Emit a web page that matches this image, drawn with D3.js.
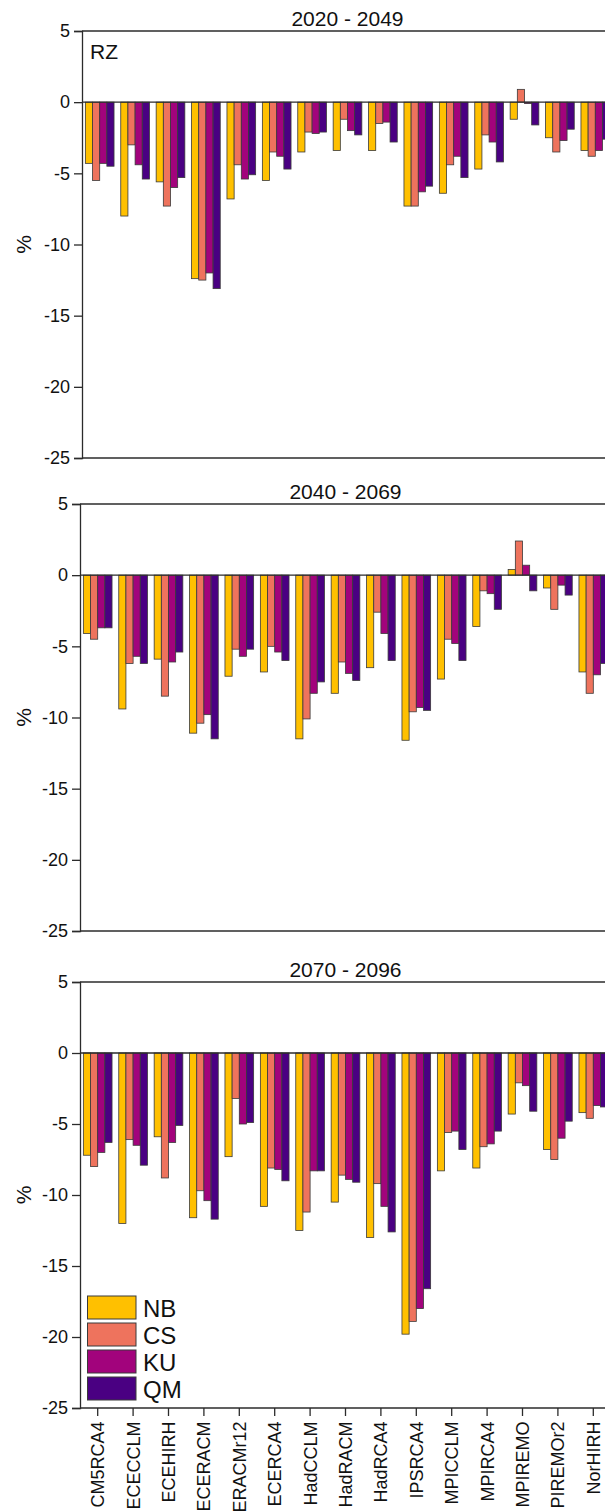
<!DOCTYPE html>
<html>
<head>
<meta charset="utf-8">
<script src="https://cdn.jsdelivr.net/npm/d3@7"></script>
<style>
  html, body { margin: 0; padding: 0; background: #fff; overflow: hidden; }
  svg { display: block; font-family: "Liberation Sans", Arial, sans-serif; }
</style>
</head>
<body>
<svg id="chart" width="605" height="1511"></svg>
<script>
// Model chains (x axis)
const models = ["CM5RCA4", "ECECCLM", "ECEHIRH", "ECERACM", "ERACMr12", "ECERCA4",
  "HadCCLM", "HadRACM", "HadRCA4", "IPSRCA4", "MPICCLM", "MPIRCA4", "MPIREMO",
  "PIREMOr2", "NorHIRH"];

// Bias-correction methods (legend)
const methods = ["NB", "CS", "KU", "QM"];
const methodColors = ["#FFC000", "#EE735D", "#A2037C", "#4A0082"];

// Periods (panel titles)
const periods = ["2020 - 2049", "2040 - 2069", "2070 - 2096"];

// Y axis ticks (%)
const yTicks = [5, 0, -5, -10, -15, -20, -25];

// Relative change (%), 2020 - 2049
const nb2020 = [-4.3, -8.0, -5.6, -12.4, -6.8, -5.5, -3.5, -3.4, -3.4, -7.3, -6.4, -4.7, -1.2, -2.5, -3.4];
const cs2020 = [-5.5, -3.0, -7.3, -12.5, -4.4, -3.5, -2.1, -1.2, -1.5, -7.3, -4.4, -2.3, 0.9, -3.5, -3.8];
const ku2020 = [-4.3, -4.4, -6.0, -12.0, -5.4, -3.8, -2.2, -2.0, -1.4, -6.3, -3.8, -2.8, -0.1, -2.7, -3.4];
const qm2020 = [-4.5, -5.4, -5.3, -13.1, -5.1, -4.7, -2.1, -2.3, -2.8, -5.9, -5.3, -4.2, -1.6, -1.9, -2.6];

// Relative change (%), 2040 - 2069
const nb2040 = [-4.1, -9.4, -5.9, -11.1, -7.1, -6.8, -11.5, -8.3, -6.5, -11.6, -7.3, -3.6, 0.4, -0.9, -6.8];
const cs2040 = [-4.5, -6.2, -8.5, -10.4, -5.2, -5.0, -10.1, -6.1, -2.6, -9.6, -4.5, -1.1, 2.4, -2.4, -8.3];
const ku2040 = [-3.7, -5.7, -6.1, -9.8, -5.7, -5.4, -8.3, -6.9, -4.1, -9.3, -4.8, -1.3, 0.7, -0.7, -7.0];
const qm2040 = [-3.7, -6.2, -5.4, -11.5, -5.2, -6.0, -7.5, -7.4, -6.0, -9.5, -6.0, -2.4, -1.1, -1.4, -6.2];

// Relative change (%), 2070 - 2096
const nb2070 = [-7.2, -12.0, -5.9, -11.6, -7.3, -10.8, -12.5, -10.5, -13.0, -19.8, -8.3, -8.1, -4.3, -6.8, -4.2];
const cs2070 = [-8.0, -6.1, -8.8, -9.7, -3.2, -8.1, -11.2, -8.6, -9.2, -18.9, -5.6, -6.6, -2.1, -7.5, -4.6];
const ku2070 = [-7.0, -6.5, -6.3, -10.4, -5.0, -8.2, -8.3, -8.9, -10.8, -18.0, -5.5, -6.4, -2.3, -6.0, -3.7];
const qm2070 = [-6.3, -7.9, -5.1, -11.7, -4.9, -9.0, -8.3, -9.1, -12.6, -16.6, -6.8, -5.5, -4.1, -4.8, -3.8];

const seriesByPeriod = [
  [nb2020, cs2020, ku2020, qm2020],
  [nb2040, cs2040, ku2040, qm2040],
  [nb2070, cs2070, ku2070, qm2070]
];

// Panel placement
const panelTop = [31, 504, 982];
const panelBottom = [458, 931, 1408];
const panelLeft = [82, 80, 80];
const plotWidth = 531;

const svg = d3.select("#chart");
const lineColor = "#2b2b2b";

periods.forEach((period, p) => {
  const top = panelTop[p], bottom = panelBottom[p], left = panelLeft[p];
  const right = left + plotWidth;
  const g = svg.append("g");

  const y = d3.scaleLinear().domain([-25, 5]).range([bottom, top]);
  const x0 = d3.scaleBand().domain(models).range([left, right])
    .paddingInner(0.19).paddingOuter(0.095);
  const x1 = d3.scaleBand().domain(methods).range([0, x0.bandwidth()]).padding(0);

  const rows = [];
  models.forEach((m, i) => {
    methods.forEach((s, k) => {
      rows.push({ model: m, method: s, k: k, value: seriesByPeriod[p][k][i] });
    });
  });

  // bars
  g.append("g").selectAll("rect").data(rows).join("rect")
    .attr("x", d => x0(d.model) + x1(d.method))
    .attr("width", x1.bandwidth())
    .attr("y", d => Math.min(y(d.value), y(0)))
    .attr("height", d => Math.abs(y(d.value) - y(0)))
    .attr("fill", d => methodColors[d.k])
    .attr("stroke", "#3a3a3a")
    .attr("stroke-width", 0.8);

  // frame: top and bottom edges, zero line
  [5, -25, 0].forEach(v => {
    g.append("line")
      .attr("x1", left).attr("x2", right)
      .attr("y1", y(v)).attr("y2", y(v))
      .attr("stroke", lineColor).attr("stroke-width", 1.3);
  });

  // y axis
  const yAxis = d3.axisLeft(y).tickValues(yTicks).tickSize(8).tickPadding(4)
    .tickFormat(d3.format("d"));
  const ya = g.append("g").attr("transform", `translate(${left},0)`).call(yAxis);
  ya.select(".domain").attr("stroke", lineColor).attr("stroke-width", 1.3);
  ya.selectAll(".tick line").attr("stroke", lineColor).attr("stroke-width", 1.3);
  ya.selectAll(".tick text").attr("font-size", 18).attr("fill", "#111")
    .attr("font-family", "Liberation Sans, Arial, sans-serif")
    .text(d => d < 0 ? "-" + Math.abs(d) : d);

  // y label
  g.append("text")
    .attr("transform", `translate(31,${(top + bottom) / 2}) rotate(-90)`)
    .attr("text-anchor", "middle")
    .attr("font-size", 21).attr("fill", "#111")
    .text("%");

  // panel title
  g.append("text")
    .attr("x", (left + right) / 2).attr("y", top - 5)
    .attr("text-anchor", "middle")
    .attr("font-size", 21).attr("fill", "#111")
    .text(period);

  if (p === 0) {
    g.append("text").attr("x", 90).attr("y", 59)
      .attr("font-size", 21).attr("fill", "#111").text("RZ");
  }

  if (p === 2) {
    // x axis ticks and model labels
    const xAxis = d3.axisBottom(x0).tickSize(8).tickPadding(0);
    const xa = g.append("g").attr("transform", `translate(0,${bottom})`).call(xAxis);
    xa.select(".domain").remove();
    xa.selectAll(".tick line").attr("stroke", lineColor).attr("stroke-width", 1.3);
    xa.selectAll(".tick text")
      .attr("font-size", 18).attr("fill", "#111")
      .attr("font-family", "Liberation Sans, Arial, sans-serif")
      .attr("text-anchor", "end")
      .attr("dy", null)
      .attr("transform", "translate(6.5,13.5) rotate(-90)")
      .attr("x", 0).attr("y", 0);

    // legend
    const lg = g.append("g");
    methods.forEach((m, k) => {
      const yy = 1296 + k * 27;
      lg.append("rect")
        .attr("x", 87.5).attr("y", yy)
        .attr("width", 48.5).attr("height", 23)
        .attr("fill", methodColors[k])
        .attr("stroke", "#3a3a3a").attr("stroke-width", 1);
      lg.append("text")
        .attr("x", 143).attr("y", yy + 20.5)
        .attr("font-size", 24).attr("fill", "#111")
        .text(m);
    });
  }
});
</script>
</body>
</html>
